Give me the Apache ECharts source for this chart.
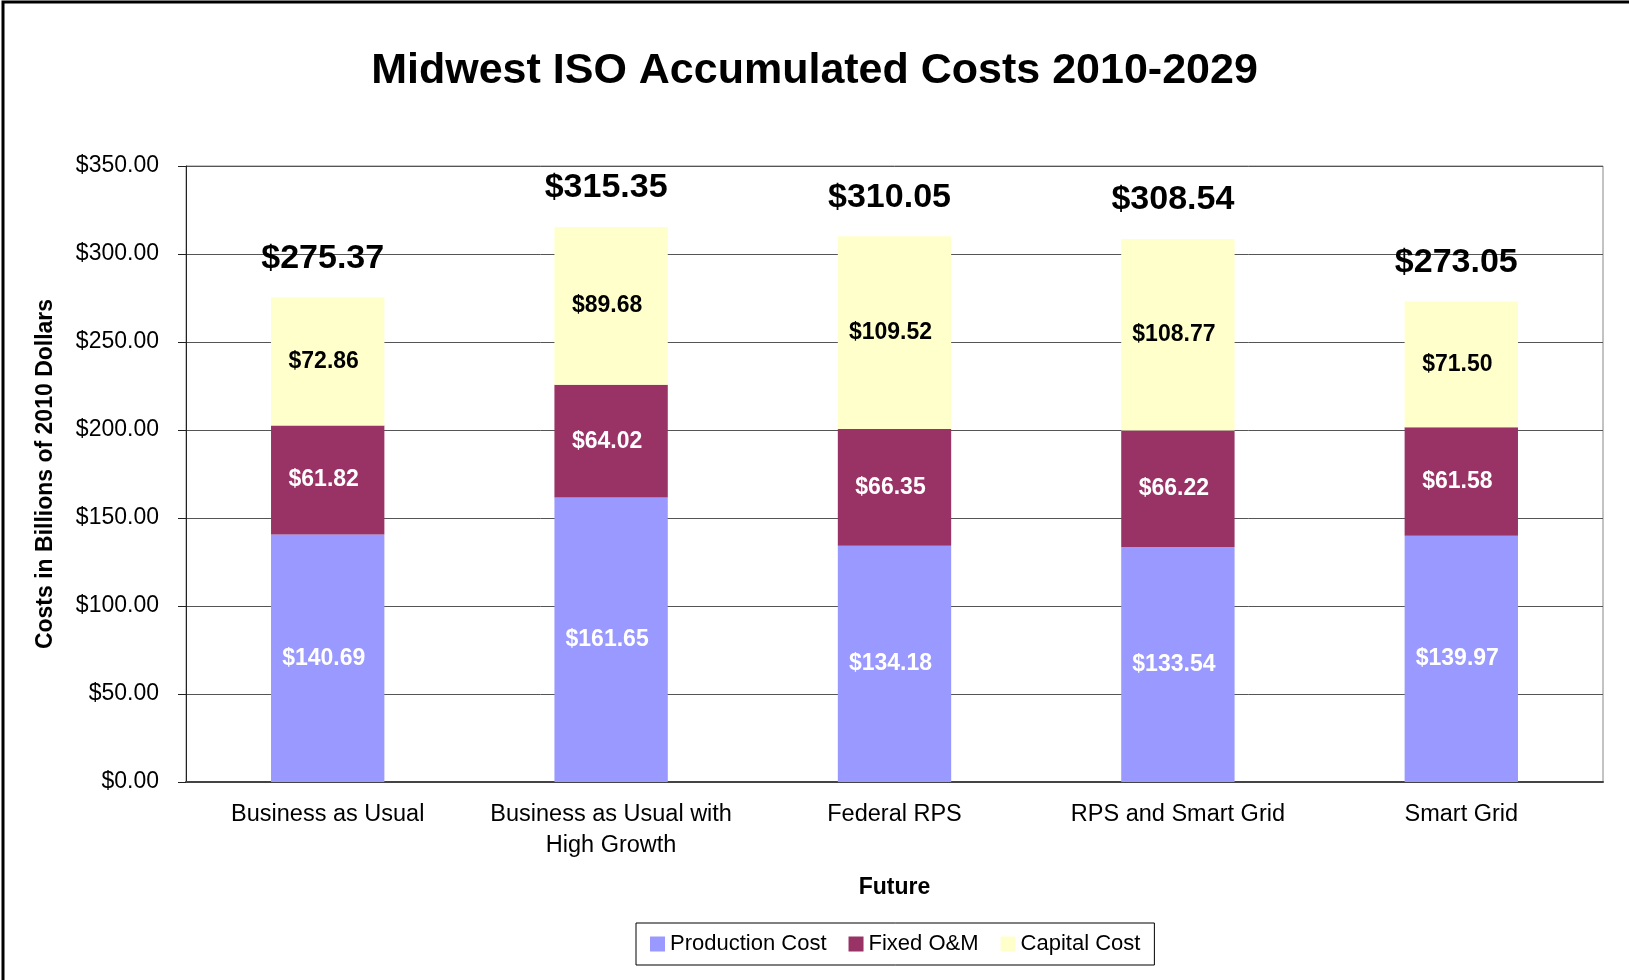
<!DOCTYPE html>
<html>
<head>
<meta charset="utf-8">
<script src="https://cdn.jsdelivr.net/npm/echarts@6/dist/echarts.min.js"></script>
<style>
  html, body { margin: 0; padding: 0; background: #fff; }
  #main { width: 1629px; height: 980px; }
</style>
</head>
<body>
<div id="main"></div>
<script>
const categories = ['Business as Usual', 'Business as Usual with\nHigh Growth', 'Federal RPS', 'RPS and Smart Grid', 'Smart Grid'];
const productionCost = [140.69, 161.65, 134.18, 133.54, 139.97];
const fixedOM = [61.82, 64.02, 66.35, 66.22, 61.58];
const capitalCost = [72.86, 89.68, 109.52, 108.77, 71.50];
const totals = [275.37, 315.35, 310.05, 308.54, 273.05];

const font = 'Liberation Sans, Arial, sans-serif';
const money = v => '$' + Number(v).toFixed(2);

let myChart = echarts.init(document.getElementById('main'));

const segLabel = color => ({
   show: true,
   position: 'inside',
   offset: [-4, 0],
   color: color,
   fontFamily: font,
   fontWeight: 'bold',
   fontSize: 23,
   formatter: p => money(p.value)
});

myChart.setOption({
   animation: false,
   textStyle: { fontFamily: font },
   graphic: [{
      type: 'rect',
      shape: { x: 3, y: 2, width: 1700, height: 1100 },
      style: { fill: 'none', stroke: '#000', lineWidth: 3 },
      silent: true
   }],
   title: {
      text: 'Midwest ISO Accumulated Costs 2010-2029',
      left: 'center',
      top: 45,
      textStyle: { fontFamily: font, fontSize: 43, fontWeight: 'bold', color: '#000' }
   },
   legend: {
      data: ['Production Cost', 'Fixed O&M', 'Capital Cost'],
      left: 636,
      top: 923,
      itemWidth: 15,
      itemHeight: 15,
      itemGap: 22,
      icon: 'rect',
      padding: [10, 14, 10, 14],
      borderColor: '#000',
      borderWidth: 1,
      textStyle: { fontFamily: font, fontSize: 22, color: '#000' }
   },
   grid: {
      left: 186,
      right: 26,
      top: 166,
      bottom: 198,
      show: true,
      borderColor: '#888',
      borderWidth: 1
   },
   xAxis: {
      type: 'category',
      data: categories,
      name: 'Future',
      nameLocation: 'middle',
      nameGap: 94,
      nameTextStyle: { fontFamily: font, fontSize: 23, fontWeight: 'bold', color: '#000' },
      axisLine: { lineStyle: { color: '#444', width: 2 } },
      axisTick: { length: 7, lineStyle: { color: '#444' } },
      axisLabel: { interval: 0, fontFamily: font, fontSize: 23.5, color: '#000', margin: 17, lineHeight: 31 }
   },
   yAxis: {
      type: 'value',
      min: 0,
      max: 350,
      interval: 50,
      name: 'Costs in Billions of 2010 Dollars',
      nameLocation: 'middle',
      nameGap: 129,
      nameTextStyle: { fontFamily: font, fontSize: 23, fontWeight: 'bold', color: '#000' },
      axisLine: { show: true, lineStyle: { color: '#222', width: 1 } },
      axisTick: { show: true, length: 8, lineStyle: { color: '#222' } },
      axisLabel: { fontFamily: font, fontSize: 23, color: '#000', margin: 27, formatter: money },
      splitLine: { lineStyle: { color: '#555', width: 1 } }
   },
   series: [
      {
         name: 'Production Cost',
         type: 'bar',
         stack: 'cost',
         barWidth: '40%',
         data: productionCost,
         itemStyle: { color: '#9999FF' },
         label: segLabel('#fff')
      },
      {
         name: 'Fixed O&M',
         type: 'bar',
         stack: 'cost',
         barWidth: '40%',
         data: fixedOM,
         itemStyle: { color: '#993366' },
         label: segLabel('#fff')
      },
      {
         name: 'Capital Cost',
         type: 'bar',
         stack: 'cost',
         barWidth: '40%',
         data: capitalCost,
         itemStyle: { color: '#FFFFCC' },
         label: segLabel('#000')
      },
      {
         name: 'Total',
         type: 'bar',
         barWidth: '40%',
         barGap: '-100%',
         data: totals,
         z: 1,
         silent: true,
         itemStyle: { color: 'rgba(0,0,0,0)' },
         label: {
            show: true,
            position: 'top',
            distance: 22,
            offset: [-5, 0],
            color: '#000',
            fontFamily: font,
            fontWeight: 'bold',
            fontSize: 34,
            formatter: p => money(p.value)
         }
      }
   ]
});
</script>
</body>
</html>
